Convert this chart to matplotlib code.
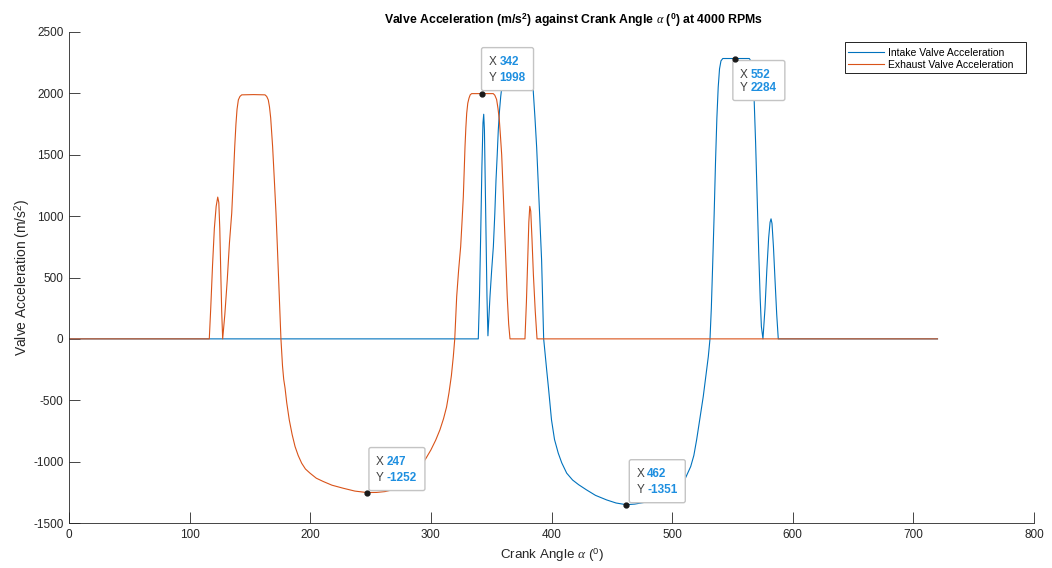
import matplotlib
matplotlib.use("Agg")
import matplotlib.pyplot as plt
from matplotlib.patches import FancyBboxPatch, Rectangle
from matplotlib.transforms import Affine2D, ScaledTranslation

# ---- data: valve acceleration (m/s^2) vs crank angle (deg) ----
intake_angle = [0, 339.3, 340.3, 341.3, 342.3, 343.2, 343.8, 344.4, 345.1, 345.8, 346.5, 347.3,
                349.0, 350.4, 351.8, 353.0, 354.0, 355.0, 355.9, 356.9, 357.9, 359.5, 361.0,
                362.5, 364.0, 380.0, 381.5, 383.0, 384.2, 384.9, 386.3, 387.7, 389.0, 390.4,
                391.8, 393.5, 394.5, 396.0, 397.5, 400.0, 402.5, 405.6, 408.5, 412.6, 417.5,
                422.5, 429.0, 436.5, 445.7, 453.5, 462.0, 469.0, 477.0, 485.0, 492.0, 498.0,
                503.0, 507.5, 511.0, 515.4, 518.0, 520.3, 523.0, 525.8, 528.0, 530.0, 531.4,
                532.5, 533.6, 534.8, 536.0, 537.1, 538.2, 539.3, 540.5, 542.0, 564.0, 565.2,
                566.2, 567.0, 568.0, 569.2, 570.5, 571.8, 573.0, 574.0, 575.3, 577.0, 578.5,
                580.0, 581.2, 582.0, 582.8, 584.0, 585.3, 586.7, 588.0, 720]
intake_accel = [0, 0, 350, 850, 1400, 1760, 1830, 1700, 1250, 800, 350, 25,
                345, 560, 752, 1020, 1295, 1500, 1703, 1860, 1974, 2110, 2220,
                2270, 2284, 2284, 2270, 2220, 2100, 2015, 1800, 1560, 1270, 960,
                640, 0, -100, -253, -400, -660, -820, -931, -1010, -1094, -1150,
                -1188, -1230, -1275, -1312, -1337, -1351, -1346, -1332, -1310, -1282, -1250,
                -1215, -1180, -1135, -1040, -950, -823, -650, -470, -300, -144, 0,
                250, 600, 1000, 1450, 1800, 2050, 2200, 2265, 2284, 2284, 2265,
                2200, 2080, 1947, 1600, 1150, 700, 330, 100, 0, 250, 560,
                820, 950, 978, 940, 750, 480, 200, 0, 0]

exhaust_angle = [0, 116.3, 117.5, 119.0, 120.5, 122.0, 123.3, 124.2, 125.0, 125.8, 126.6, 127.4,
                 129.2, 131.2, 133.0, 134.9, 136.2, 137.4, 138.4, 139.3, 140.4, 141.7, 143.2,
                 153.0, 162.5, 163.9, 165.2, 166.2, 167.2, 168.8, 170.2, 171.6, 172.7, 173.8,
                 175.7, 177.0, 178.0, 179.1, 180.5, 182.6, 185.0, 187.4, 190.0, 192.9, 196.0,
                 199.8, 205.0, 210.8, 218.0, 227.4, 237.0, 247.0, 255.0, 262.0, 268.0, 274.0,
                 280.0, 285.0, 290.0, 296.0, 300.0, 304.0, 307.5, 310.5, 313.0, 315.0, 317.0,
                 318.6, 319.8, 321.4, 323.0, 324.7, 325.8, 326.9, 327.6, 328.3, 329.0, 329.7,
                 330.6, 331.6, 332.6, 333.8, 351.7, 353.0, 354.5, 355.6, 356.7, 357.7, 358.7,
                 360.1, 361.7, 363.3, 364.5, 365.6, 378.0, 379.2, 380.3, 381.2, 382.0, 382.8,
                 383.8, 385.0, 386.5, 388.0, 720]
exhaust_accel = [0, 0, 250, 600, 900, 1080, 1155, 1110, 900, 550, 220, 0,
                 200, 481, 780, 1024, 1300, 1567, 1750, 1870, 1947, 1975, 1988,
                 1990, 1988, 1975, 1947, 1890, 1800, 1567, 1300, 1024, 760, 481,
                 0, -220, -330, -400, -520, -660, -780, -877, -950, -1013, -1060,
                 -1094, -1135, -1162, -1192, -1217, -1240, -1252, -1251, -1244, -1230, -1205,
                 -1166, -1120, -1063, -972, -905, -825, -741, -650, -555, -440, -300,
                 -144, 0, 345, 560, 752, 950, 1159, 1360, 1567, 1720, 1838,
                 1920, 1961, 1988, 1998, 1998, 1985, 1950, 1880, 1790, 1650, 1500,
                 1159, 752, 345, 120, 0, 0, 300, 650, 950, 1080, 1040,
                 820, 520, 230, 0, 0]

series_labels = ["Intake Valve Acceleration", "Exhaust Valve Acceleration"]

# data tips: (angle, acceleration, box offset in pixels: dx, dy, width, height)
tips = [
    (342, 1998, 0, 3, 52, 43),
    (247, -1252, 2, 2, 56, 43),
    (462, -1351, 3, 2, 56, 43),
    (552, 2284, -2, -42, 52, 40),
]

x_ticks = list(range(0, 801, 100))
y_ticks = list(range(-1500, 2501, 500))

BLUE = "#0072BD"
ORANGE = "#D95319"
TXT = "#262626"

plt.rcParams["font.family"] = ["Liberation Sans Narrow", "Liberation Sans", "DejaVu Sans"]
plt.rcParams["axes.unicode_minus"] = False
plt.rcParams["mathtext.fontset"] = "custom"
plt.rcParams["mathtext.rm"] = "Liberation Sans"
plt.rcParams["mathtext.it"] = "Liberation Serif:italic"
plt.rcParams["mathtext.bf"] = "Liberation Sans:bold"

W, H = 1052, 568
fig = plt.figure(figsize=(W / 100, H / 100), dpi=100)
ax = fig.add_axes([69 / W, 1 - 523 / H, 965 / W, 491 / H])

ax.plot(intake_angle, intake_accel, color=BLUE, lw=0.8, label=series_labels[0])
ax.plot(exhaust_angle, exhaust_accel, color=ORANGE, lw=0.8, label=series_labels[1])

ax.set_xlim(0, 800)
ax.set_ylim(-1500, 2500)
ax.set_xticks(x_ticks)
ax.set_yticks(y_ticks)
ax.tick_params(direction="in", length=8, width=0.6, colors=TXT, labelsize=8.5, pad=4)
for side in ("top", "right"):
    ax.spines[side].set_visible(False)
for side in ("left", "bottom"):
    ax.spines[side].set_color(TXT)
    ax.spines[side].set_linewidth(0.6)

ax.set_title(r"Valve Acceleration (m/s$^\mathbf{2}$) against Crank Angle $\alpha$ ($^\mathbf{0}$) at 4000 RPMs",
             fontsize=8.8, fontweight="bold", color="black", x=(574 - 69) / 965, pad=6)
ax.set_xlabel(r"Crank Angle $\alpha$ ($^0$)", fontsize=9.6, color=TXT, labelpad=4)
ax.set_ylabel(r"Valve Acceleration (m/s$^2$)", fontsize=10, color=TXT)
ax.yaxis.set_label_coords((33 - 69) / 965, 0.5)

# legend with a square black frame
frame = Rectangle((845 / W, 1 - 73.3 / H), 181 / W, 31.6 / H, transform=fig.transFigure,
                  facecolor="white", edgecolor="black", lw=0.6, zorder=8)
fig.add_artist(frame)
leg = fig.legend(loc="upper left", bbox_to_anchor=(848 / W, 1 - 48 / H), fontsize=7.5,
                 frameon=False, handlelength=3.5, borderpad=0, labelspacing=0.15,
                 handletextpad=0.3, borderaxespad=0)
leg.set_zorder(9)

for (tx, ty, dx, dy, w, h) in tips:
    anchor = ScaledTranslation(tx, ty, ax.transData)
    box = FancyBboxPatch((dx, dy), w, h, boxstyle="round,pad=0,rounding_size=2",
                         transform=Affine2D() + anchor, facecolor="white",
                         edgecolor="#c4c4c4", lw=1.0, zorder=5, clip_on=False)
    ax.add_artist(box)
    ax.plot([tx], [ty], "o", ms=3.5, color="#1a1a1a", zorder=6)
    left = dx + 7
    ax.annotate("X", (tx, ty), xytext=(left, dy + h - 14), textcoords="offset pixels",
                fontsize=8.5, color="#404040", va="center", ha="left", zorder=7)
    ax.annotate("Y", (tx, ty), xytext=(left, dy + 13), textcoords="offset pixels",
                fontsize=8.5, color="#404040", va="center", ha="left", zorder=7)
    ax.annotate(f"{tx:g}", (tx, ty), xytext=(left + 11, dy + h - 14), textcoords="offset pixels",
                fontsize=8.5, color="#1E8FE0", fontweight="bold", va="center", ha="left", zorder=7)
    ax.annotate(f"{ty:g}", (tx, ty), xytext=(left + 11, dy + 13), textcoords="offset pixels",
                fontsize=8.5, color="#1E8FE0", fontweight="bold", va="center", ha="left", zorder=7)

fig.savefig("out.png", dpi=100, facecolor="white")
